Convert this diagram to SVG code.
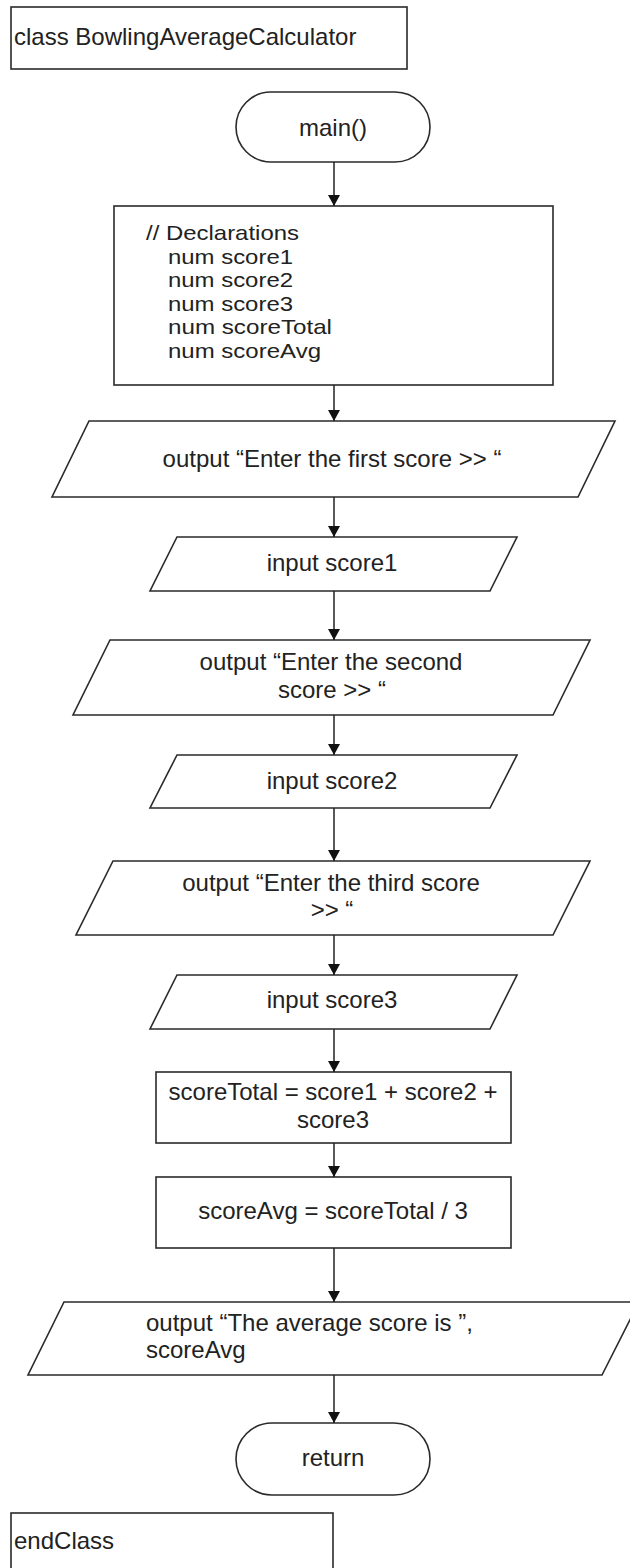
<svg xmlns="http://www.w3.org/2000/svg" width="630" height="1568" viewBox="0 0 630 1568">
<style>
.s{fill:#fff;stroke:#2a2a2a;stroke-width:1.6}
.t{font-family:"Liberation Sans",Arial,sans-serif;font-size:24px;fill:#222}
.d{font-family:"Liberation Sans",Arial,sans-serif;font-size:21px;fill:#222}
.c{text-anchor:middle}
.e{stroke:#222;stroke-width:1.5;fill:none}
</style>
<defs>
<marker id="ah" viewBox="0 0 11 12" refX="11" refY="6" markerWidth="11" markerHeight="12" markerUnits="userSpaceOnUse" orient="auto">
<path d="M0,0 L11,6 L0,12 Z" fill="#111"/>
</marker>
</defs>
<rect width="630" height="1568" fill="#fff"/>
<g id="classStart">
<rect class="s" x="11" y="7" width="396" height="62"/>
<text class="t" x="14" y="45">class BowlingAverageCalculator</text>
</g>
<g id="main">
<rect class="s" x="236" y="92" width="194" height="70" rx="35" ry="35"/>
<text class="t c" x="333" y="136">main()</text>
</g>
<g id="declarations">
<rect class="s" x="114" y="206" width="439" height="179"/>
<text class="d" x="146" y="240" textLength="153" lengthAdjust="spacingAndGlyphs">// Declarations</text>
<text class="d" x="168" y="263.5" textLength="125" lengthAdjust="spacingAndGlyphs">num score1</text>
<text class="d" x="168" y="287" textLength="125" lengthAdjust="spacingAndGlyphs">num score2</text>
<text class="d" x="168" y="310.5" textLength="125" lengthAdjust="spacingAndGlyphs">num score3</text>
<text class="d" x="168" y="334" textLength="164" lengthAdjust="spacingAndGlyphs">num scoreTotal</text>
<text class="d" x="168" y="357.5" textLength="153" lengthAdjust="spacingAndGlyphs">num scoreAvg</text>
</g>
<g id="out1">
<polygon class="s" points="89,421 615,421 578,497 52,497"/>
<text class="t c" x="332" y="467">output “Enter the first score &gt;&gt; “</text>
</g>
<g id="in1">
<polygon class="s" points="177,537 517,537 490,591 150,591"/>
<text class="t c" x="332" y="571">input score1</text>
</g>
<g id="out2">
<polygon class="s" points="110,640 590,640 553,715 73,715"/>
<text class="t c" x="331" y="670">output “Enter the second</text>
<text class="t c" x="332" y="698">score &gt;&gt; “</text>
</g>
<g id="in2">
<polygon class="s" points="177,755 517,755 490,808 150,808"/>
<text class="t c" x="332" y="789">input score2</text>
</g>
<g id="out3">
<polygon class="s" points="113,861 590,861 553,935 76,935"/>
<text class="t c" x="331" y="891">output “Enter the third score</text>
<text class="t c" x="332" y="918">&gt;&gt; “</text>
</g>
<g id="in3">
<polygon class="s" points="177,975 517,975 490,1029 150,1029"/>
<text class="t c" x="332" y="1008">input score3</text>
</g>
<g id="total">
<rect class="s" x="156" y="1072" width="355" height="71"/>
<text class="t c" x="333" y="1100">scoreTotal = score1 + score2 +</text>
<text class="t c" x="333" y="1128">score3</text>
</g>
<g id="avg">
<rect class="s" x="156" y="1177" width="355" height="71"/>
<text class="t c" x="333" y="1219">scoreAvg = scoreTotal / 3</text>
</g>
<g id="out4">
<polygon class="s" points="64,1302 639,1302 602,1375 28,1375"/>
<text class="t" x="146" y="1331">output “The average score is ”,</text>
<text class="t" x="146" y="1358">scoreAvg</text>
</g>
<g id="return">
<rect class="s" x="236" y="1423" width="194" height="72" rx="36" ry="36"/>
<text class="t c" x="333" y="1466">return</text>
</g>
<g id="classEnd">
<rect class="s" x="11" y="1513" width="322" height="64"/>
<text class="t" x="14" y="1549">endClass</text>
</g>
<g id="connectors">
<line class="e" x1="334" y1="162" x2="334" y2="206" marker-end="url(#ah)"/>
<line class="e" x1="334" y1="385" x2="334" y2="421" marker-end="url(#ah)"/>
<line class="e" x1="334" y1="497" x2="334" y2="537" marker-end="url(#ah)"/>
<line class="e" x1="334" y1="591" x2="334" y2="640" marker-end="url(#ah)"/>
<line class="e" x1="334" y1="715" x2="334" y2="755" marker-end="url(#ah)"/>
<line class="e" x1="334" y1="808" x2="334" y2="861" marker-end="url(#ah)"/>
<line class="e" x1="334" y1="935" x2="334" y2="975" marker-end="url(#ah)"/>
<line class="e" x1="334" y1="1029" x2="334" y2="1072" marker-end="url(#ah)"/>
<line class="e" x1="334" y1="1143" x2="334" y2="1177" marker-end="url(#ah)"/>
<line class="e" x1="334" y1="1248" x2="334" y2="1302" marker-end="url(#ah)"/>
<line class="e" x1="334" y1="1375" x2="334" y2="1423" marker-end="url(#ah)"/>
</g>
</svg>
